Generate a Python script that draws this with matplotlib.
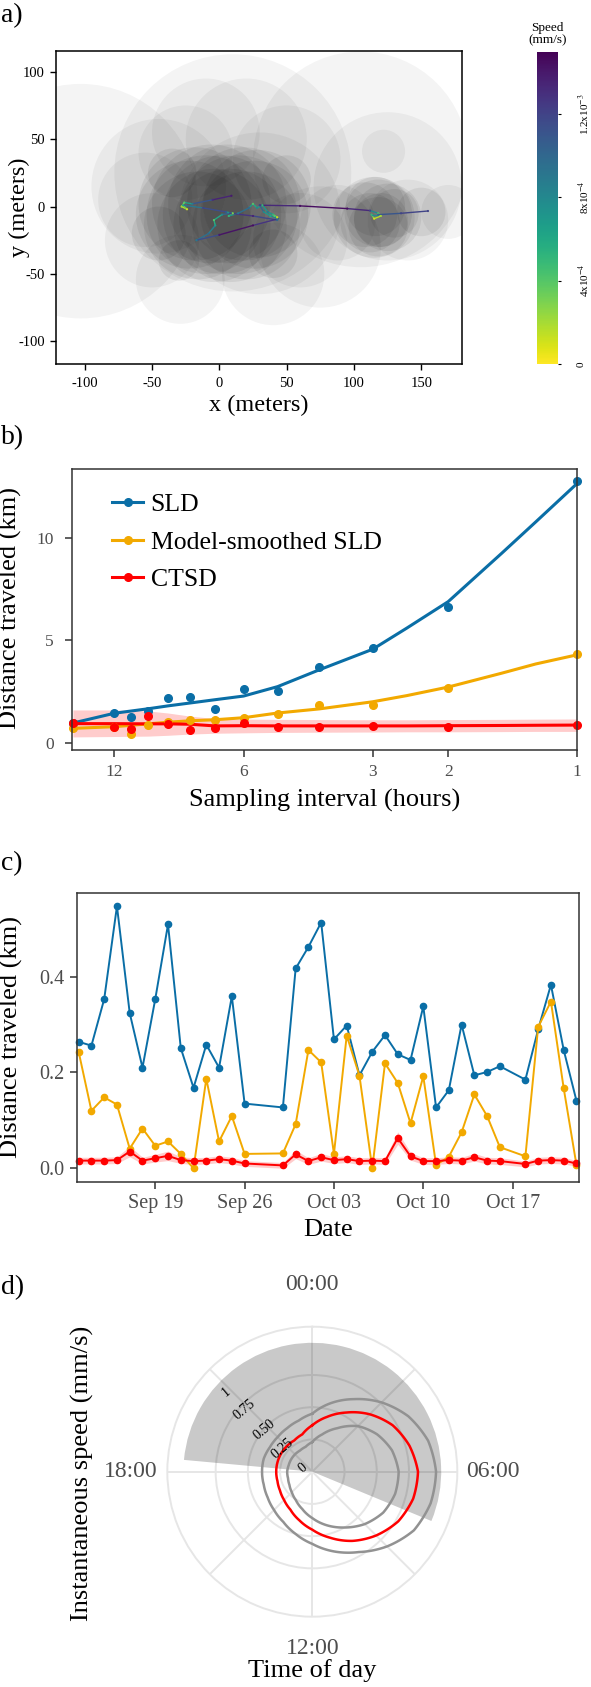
import numpy as np
import pandas as pd
import matplotlib
matplotlib.use("Agg")
import matplotlib.pyplot as plt
import matplotlib.transforms as mtransforms
from matplotlib.collections import LineCollection
from matplotlib.patches import Circle
from matplotlib.lines import Line2D
from matplotlib.cm import ScalarMappable
from matplotlib.colors import Normalize

plt.rcParams['font.family'] = 'serif'
plt.rcParams['font.serif'] = ['Liberation Serif', 'DejaVu Serif']
plt.rcParams['mathtext.fontset'] = 'stix'
plt.rcParams['axes.unicode_minus'] = False

# ---------------- panel a: location error circles + track ----------------
# faint, large error circles
halo_x = [-103, 10, 105, -29, 125, 122, 170, 75, 40, -45, 20, -10, 50, 30, -50, -55, 60, 88, 140, -25]
halo_y = [4, 25, 35, -54, 15, 41, -4, -30, -50, 15, 50, 55, 35, -5, -25, 5, -25, -12, -10, 40]
halo_r = [87, 88, 80, 33, 55, 16, 20, 45, 38, 50, 45, 40, 40, 60, 35, 35, 35, 28, 30, 35]
# tighter error circles along the track
core_x = [-18, -6, 6, 18, 28,
          -22, -10, 2, 14, 26,
          -16, -4, 8, 20,
          -45, 40, 50, -30, -35,
          115, 118, 112, 120, 116, 125, 108, 118, 130, 150]
core_y = [2, 2, 2, 2, 2,
          -6, -6, -6, -6, -6,
          -14, -14, -14, -14,
          -20, -35, 20, -40, 25,
          -8, -5, -12, -10, 0, -8, -6, -15, -5, -4]
core_r = [42, 44, 44, 42, 40,
          40, 44, 44, 44, 40,
          40, 42, 42, 40,
          20, 18, 18, 15, 18,
          30, 25, 22, 20, 22, 25, 24, 22, 18, 18]

traj_x = [9, -5, -20, -26, -28, -24, -27, -12, 5, 10, 7, 14, 22, 25, 28, 32, 36, 40,
          43, 44, 41, 43, 25, 8, 2, -4, -3, -8, -17, 0, 25, 44, 38, 33, 30, 60, 95,
          112, 118, 120, 115, 113, 118, 135, 155]
traj_y = [8, 5, 2, 3, 0, -2, 1, -1, -4, -5, -7, -5, -1, 2, -1, 1, -4, -6,
          -8, -9, -7, -10, -7, -5, -6, -10, -14, -20, -25, -21, -14, -9, -7, -4, 1, 0.5, -1.5,
          -3, -5, -7, -9, -6, -6, -5, -3.3]
traj_speed = [1.4e-3, 1.3e-3, 9e-4, 4e-4, 2e-4, 1e-4, 6e-4, 1.2e-3, 1.1e-3, 3e-4,
              5e-4, 9e-4, 1.0e-3, 4e-4, 8e-4, 5e-4, 9e-4, 5e-4, 1e-4, 2e-4, 4e-4, 1.0e-3,
              1.35e-3, 1.2e-3, 8e-4, 4e-4, 7e-4, 1.0e-3, 9e-4, 1.4e-3, 1.45e-3, 1.1e-3, 6e-4,
              8e-4, 1.2e-3, 1.45e-3, 1.45e-3, 1.2e-3, 4e-4, 2e-4, 1e-4, 5e-4, 1.0e-3, 1.2e-3, 1.2e-3]

# ---------------- panel b: distance vs sampling interval ----------------
interval_h = [15, 12, 11, 10, 9, 8, 7, 6, 5, 4, 3, 2, 1]
sld_pts = [0.96, 1.47, 1.27, 1.55, 2.20, 2.25, 1.63, 2.61, 2.54, 3.72, 4.65, 6.65, 12.82]
msld_pts = [0.70, 0.78, 0.43, 0.87, 1.03, 1.11, 1.11, 1.19, 1.40, 1.84, 1.83, 2.69, 4.32]
ctsd_pts = [0.98, 0.75, 0.65, 1.31, 0.92, 0.62, 0.70, 0.98, 0.78, 0.78, 0.82, 0.78, 0.85]

fit_h = [15, 12, 10, 9, 8, 7, 6, 5, 4, 3, 2.5, 2, 1.5, 1.25, 1]
sld_fit = [0.96, 1.44, 1.66, 1.80, 1.94, 2.10, 2.28, 2.74, 3.56, 4.57, 5.6, 6.9, 9.27, 10.8, 12.69]
msld_fit = [0.70, 0.78, 0.92, 1.00, 1.07, 1.12, 1.22, 1.45, 1.65, 2.00, 2.30, 2.72, 3.40, 3.85, 4.30]
ctsd_fit = [0.93, 0.93, 0.92, 0.92, 0.90, 0.82, 0.83, 0.82, 0.82, 0.82, 0.82, 0.83, 0.84, 0.85, 0.86]
ctsd_lo = [0.28, 0.30, 0.32, 0.36, 0.42, 0.46, 0.48, 0.50, 0.51, 0.52, 0.53, 0.53, 0.54, 0.55, 0.55]
ctsd_hi = [1.60, 1.60, 1.55, 1.45, 1.30, 1.18, 1.15, 1.14, 1.13, 1.12, 1.12, 1.13, 1.14, 1.15, 1.16]

# ---------------- panel c: daily distance ----------------
day_dates = pd.to_datetime(
    ['2019-09-13', '2019-09-14', '2019-09-15', '2019-09-16', '2019-09-17', '2019-09-18',
     '2019-09-19', '2019-09-20', '2019-09-21', '2019-09-22', '2019-09-23', '2019-09-24',
     '2019-09-25', '2019-09-26', '2019-09-29', '2019-09-30', '2019-10-01', '2019-10-02',
     '2019-10-03', '2019-10-04', '2019-10-05', '2019-10-06', '2019-10-07', '2019-10-08',
     '2019-10-09', '2019-10-10', '2019-10-11', '2019-10-12', '2019-10-13', '2019-10-14',
     '2019-10-15', '2019-10-16', '2019-10-18', '2019-10-19', '2019-10-20', '2019-10-21',
     '2019-10-22'])
day_sld = [0.264, 0.256, 0.353, 0.547, 0.324, 0.210, 0.353, 0.509, 0.251, 0.168, 0.258, 0.210,
           0.359, 0.135, 0.127, 0.417, 0.462, 0.513, 0.269, 0.298, 0.194, 0.243, 0.278, 0.238,
           0.226, 0.338, 0.127, 0.163, 0.300, 0.194, 0.201, 0.213, 0.185, 0.290, 0.383, 0.247,
           0.141]
day_msld = [0.243, 0.120, 0.148, 0.133, 0.041, 0.083, 0.047, 0.056, 0.030, 0.000, 0.187, 0.056,
            0.109, 0.030, 0.031, 0.092, 0.247, 0.221, 0.030, 0.277, 0.193, 0.000, 0.219, 0.178,
            0.094, 0.192, 0.007, 0.024, 0.075, 0.154, 0.109, 0.044, 0.025, 0.295, 0.348, 0.167,
            0.007]
day_ctsd = [0.016, 0.016, 0.016, 0.017, 0.035, 0.016, 0.021, 0.026, 0.017, 0.015, 0.016, 0.019,
            0.016, 0.010, 0.006, 0.029, 0.015, 0.023, 0.017, 0.019, 0.015, 0.016, 0.015, 0.063,
            0.025, 0.015, 0.015, 0.017, 0.016, 0.023, 0.016, 0.015, 0.009, 0.016, 0.017, 0.016,
            0.010]
day_ctsd_hw = [0.007, 0.007, 0.007, 0.007, 0.011, 0.007, 0.008, 0.010, 0.007, 0.007, 0.007, 0.007,
               0.007, 0.006, 0.006, 0.009, 0.007, 0.008, 0.007, 0.007, 0.007, 0.007, 0.007, 0.013,
               0.008, 0.007, 0.007, 0.007, 0.007, 0.008, 0.007, 0.007, 0.006, 0.007, 0.007, 0.007,
               0.006]

# ---------------- panel d: speed by time of day ----------------
hour = list(range(24))
speed_mean = [0.36, 0.44, 0.53, 0.63, 0.72, 0.78, 0.82, 0.81, 0.77, 0.70, 0.62, 0.53,
              0.45, 0.39, 0.34, 0.31, 0.29, 0.28, 0.28, 0.28, 0.28, 0.28, 0.28, 0.30]
speed_hi = [0.45, 0.55, 0.65, 0.76, 0.86, 0.93, 0.96, 0.95, 0.91, 0.82, 0.72, 0.64,
            0.56, 0.50, 0.45, 0.42, 0.40, 0.39, 0.39, 0.39, 0.38, 0.38, 0.39, 0.41]
speed_lo = [0.23, 0.30, 0.39, 0.50, 0.58, 0.64, 0.67, 0.665, 0.635, 0.575, 0.50, 0.43,
            0.36, 0.30, 0.255, 0.225, 0.205, 0.195, 0.195, 0.19, 0.19, 0.19, 0.19, 0.20]
night_start, night_end = 18.35, 7.5
night_speed = 1.0

BLUE = '#0A6EA6'
ORANGE = '#F2A900'
RED = '#FF0000'
DARK = '#333333'
TICKC = '#4D4D4D'

fig = plt.figure(figsize=(5.91, 16.87), dpi=100)

# ---- a)
ax = fig.add_axes([0.0948, 0.78423, 0.687, 0.18554])
for cx, cy, r in zip(halo_x, halo_y, halo_r):
    ax.add_patch(Circle((cx, cy), r, facecolor='black', edgecolor='none', alpha=0.045))
for cx, cy, r in zip(core_x, core_y, core_r):
    ax.add_patch(Circle((cx, cy), r, facecolor='black', edgecolor='none', alpha=0.066))
pts = np.column_stack([traj_x, traj_y])
segs = np.stack([pts[:-1], pts[1:]], axis=1)
norm = Normalize(0, 1.5e-3)
seg_speed = (np.array(traj_speed[:-1]) + np.array(traj_speed[1:])) / 2
lc = LineCollection(segs, cmap='viridis_r', norm=norm, linewidth=1.0)
lc.set_array(seg_speed)
ax.add_collection(lc)
ax.scatter(traj_x, traj_y, c=traj_speed, cmap='viridis_r', norm=norm, s=2.5, lw=0, zorder=3)
ax.set_xlim(-121.3, 180.3)
ax.set_ylim(-116.8, 115.4)
ax.set_xticks([-100, -50, 0, 50, 100, 150])
ax.set_yticks([-100, -50, 0, 50, 100])
ax.tick_params(labelsize=10.5, length=4, width=1, pad=4, colors='black')
ax.tick_params(axis='x', pad=5)
for s in ax.spines.values():
    s.set_linewidth(1.1)
ax.set_xlabel('x (meters)', fontsize=17.5, va='center')
ax.set_ylabel('y (meters)', fontsize=17.5, va='center')
ax.xaxis.set_label_coords(0.5, -0.133)
ax.yaxis.set_label_coords(-0.089, 0.5)

cax = fig.add_axes([0.9081, 0.78423, 0.0355, 0.1851])
cb = fig.colorbar(ScalarMappable(norm=norm, cmap='viridis_r'), cax=cax)
cb.outline.set_visible(False)
cb.set_ticks([0, 4e-4, 8e-4, 1.2e-3])
cb.set_ticklabels(['0', '4x10$^{-4}$', '8x10$^{-4}$', '1.2x10$^{-3}$'])
cax.tick_params(labelsize=8, length=2, pad=12, rotation=90)
for lab in cax.get_yticklabels():
    lab.set_va('center')
cax.set_title('Speed\n(mm/s)', fontsize=9.5, pad=6, linespacing=1.1)

# ---- b)
ax = fig.add_axes([0.1213, 0.55542, 0.8555, 0.16657])
ax.fill_between(fit_h, ctsd_lo, ctsd_hi, color=RED, alpha=0.2, lw=0)
ax.plot(fit_h, sld_fit, color=BLUE, lw=2.2)
ax.plot(fit_h, msld_fit, color=ORANGE, lw=2.2)
ax.plot(fit_h, ctsd_fit, color=RED, lw=2.2)
ax.plot(interval_h, sld_pts, 'o', color=BLUE, ms=5.5, clip_on=False)
ax.plot(interval_h, msld_pts, 'o', color=ORANGE, ms=5.5, clip_on=False)
ax.plot(interval_h, ctsd_pts, 'o', color=RED, ms=5.5, clip_on=False)
ax.set_xscale('log', base=2)
ax.set_xlim(15.1, 1)
ax.set_xticks([12, 6, 3, 2, 1])
ax.set_xticklabels(['12', '6', '3', '2', '1'])
ax.xaxis.set_minor_locator(matplotlib.ticker.NullLocator())
ax.set_ylim(-0.36, 13.39)
ax.set_yticks([0, 5, 10])
ax.tick_params(labelsize=12.5, labelcolor=TICKC, color=DARK, length=5, width=1.1)
ax.tick_params(axis='y', pad=8)
ax.tick_params(axis='x', pad=5)
for s in ax.spines.values():
    s.set_linewidth(1.1)
    s.set_color(DARK)
ax.set_xlabel('Sampling interval (hours)', fontsize=19, va='center')
ax.set_ylabel('Distance traveled (km)', fontsize=19, va='center')
ax.xaxis.set_label_coords(0.5, -0.178)
ax.yaxis.set_label_coords(-0.122, 0.505)
handles = [Line2D([], [], color=c, lw=2.2, marker='o', ms=5.5) for c in (BLUE, ORANGE, RED)]
ax.legend(handles, ['SLD', 'Model-smoothed SLD', 'CTSD'], loc='upper left',
          bbox_to_anchor=(0.08, 0.915), frameon=False, fontsize=18.5, handlelength=1.2,
          handletextpad=0.3, labelspacing=0.57, borderaxespad=0, borderpad=0)

# ---- c)
ax = fig.add_axes([0.1301, 0.29953, 0.8489, 0.17096])
lo = np.array(day_ctsd) - np.array(day_ctsd_hw)
hi = np.array(day_ctsd) + np.array(day_ctsd_hw)
ax.fill_between(day_dates, lo, hi, color=RED, alpha=0.2, lw=0)
ax.plot(day_dates, day_sld, '-o', color=BLUE, lw=1.4, ms=4.5, clip_on=False)
ax.plot(day_dates, day_msld, '-o', color=ORANGE, lw=1.4, ms=4.5, clip_on=False)
ax.plot(day_dates, day_ctsd, '-o', color=RED, lw=1.4, ms=4.5, clip_on=False)
ax.set_xlim(pd.Timestamp('2019-09-12 20:40'), pd.Timestamp('2019-10-22 04:00'))
ax.set_ylim(-0.028, 0.574)
ticks = pd.to_datetime(['2019-09-19', '2019-09-26', '2019-10-03', '2019-10-10', '2019-10-17'])
ax.set_xticks(ticks)
ax.set_xticklabels([t.strftime('%b %d') for t in ticks])
ax.set_yticks([0, 0.2, 0.4])
ax.set_yticklabels(['0.0', '0.2', '0.4'])
ax.tick_params(labelsize=14.5, labelcolor=TICKC, color=DARK, length=5, width=1.1, pad=4)
for s in ax.spines.values():
    s.set_linewidth(1.1)
    s.set_color(DARK)
ax.set_xlabel('Date', fontsize=19, va='center')
ax.set_ylabel('Distance traveled (km)', fontsize=19, va='center')
ax.xaxis.set_label_coords(0.5, -0.1675)
ax.yaxis.set_label_coords(-0.131, 0.5)

# ---- d)
ax = fig.add_axes([0.2831, 0.04168, 0.4907, 0.1719], projection='polar')
ax.set_theta_zero_location('N')
ax.set_theta_direction(-1)
ax.set_axisbelow(True)
to_rad = lambda h: np.asarray(h, dtype=float) / 24 * 2 * np.pi
span = (night_end + 24 - night_start)
ax.bar(to_rad(night_start + span / 2), night_speed, width=to_rad(span), bottom=0,
       color='black', alpha=0.21, lw=0)
th = to_rad(hour + [24])
for vals, col in [(speed_hi, '#929292'), (speed_lo, '#929292'), (speed_mean, RED)]:
    ln, = ax.plot(th, vals + vals[:1], color=col, lw=1.8)
    ln.get_path()._interpolation_steps = 30
ax.set_ylim(0, 1.125)
ax.set_yticks([0.25, 0.5, 0.75])
ax.set_yticklabels([])
ax.set_xticks(to_rad(range(0, 24, 3)))
ax.set_xticklabels([])
ax.grid(True, color='#E6E6E6', lw=1.4)
ax.spines['polar'].set_color('#E6E6E6')
ax.spines['polar'].set_linewidth(1.4)
for h, r in [(0, 1.45), (6, 1.40), (12, 1.37), (18, 1.41)]:
    ax.text(to_rad(h), r, '%02d:00' % h, fontsize=17, color=TICKC,
            ha='center', va='center', clip_on=False)
off = mtransforms.offset_copy(ax.transData, fig=fig, x=-3, y=-3, units='dots')
for lab, r in [('0', 0.075), ('0.25', 0.29), ('0.50', 0.49), ('0.75', 0.71), ('1', 0.91)]:
    ax.text(to_rad(21), r, lab, fontsize=10, rotation=40, ha='center', va='center',
            transform=off, rotation_mode='anchor')
fig.text(82 / 591, 1 - 1473 / 1687, 'Instantaneous speed (mm/s)', fontsize=19,
         rotation=90, ha='center', va='center')
fig.text(312 / 591, 1 - 1671 / 1687, 'Time of day', fontsize=19, ha='center', va='center')

for lab, top in [('a)', 3), ('b)', 425), ('c)', 851), ('d)', 1275)]:
    fig.text(1 / 591, 1 - top / 1687, lab, fontsize=20, ha='left', va='top')

fig.savefig('out.png', dpi=100)
